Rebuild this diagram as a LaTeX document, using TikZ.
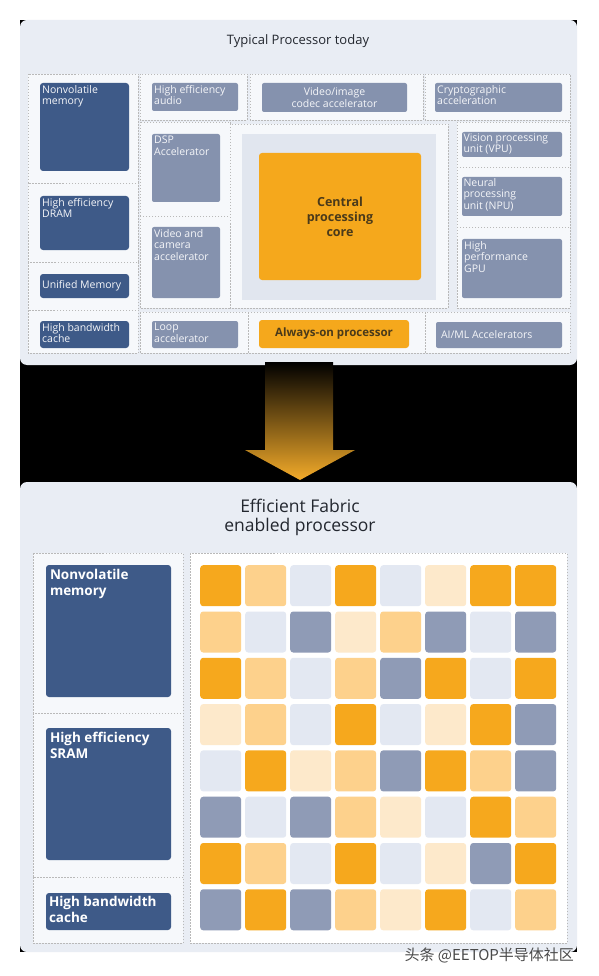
\documentclass[tikz,border=0pt]{standalone}
\usepackage{fontspec}
\setmainfont{Open Sans}
\newfontfamily\cjkfont{Noto Sans CJK SC}
\usepackage{xcolor}
\usepackage{tikz}
\usetikzlibrary{fit, positioning}

\definecolor{panelbg}{HTML}{E9EDF4}
\definecolor{cellbg}{HTML}{F6F8FB}
\definecolor{corebg}{HTML}{E1E6EF}
\definecolor{navy}{HTML}{3E5A88}
\definecolor{slate}{HTML}{8592AE}
\definecolor{coreor}{HTML}{F5A81C}
\definecolor{coretxt}{HTML}{4A3A1A}
\definecolor{titletxt}{HTML}{23272F}
\definecolor{arrowor}{HTML}{F3AB2A}
\definecolor{wmgray}{HTML}{4A4A4A}
\definecolor{tO}{HTML}{F6A81D}
\definecolor{tL}{HTML}{FDD18C}
\definecolor{tP}{HTML}{FDE9CB}
\definecolor{tG}{HTML}{E3E8F2}
\definecolor{tS}{HTML}{8F9BB6}

\begin{document}
\begin{tikzpicture}[
  x=1pt, y=-1pt,
  cell/.style={draw=gray!55, fill=cellbg, line width=0.5pt, dash pattern=on 1.5pt off 1.5pt},
  navybox/.style={fill=navy, rounded corners=3pt, inner sep=0pt},
  slatebox/.style={fill=slate, rounded corners=2pt, inner sep=0pt},
  corebox/.style={fill=coreor, rounded corners=3pt, inner sep=0pt, text=coretxt, align=center, font=\fontsize{12.5}{15}\selectfont\bfseries},
  lbl/.style={anchor=north west, text=white!92!slate, inner sep=2.2pt, align=left, font=\fontsize{10.5}{11.5}\selectfont},
  biglbl/.style={lbl, text=white, inner sep=4pt, font=\fontsize{13.5}{16}\selectfont\bfseries},
  tile/.style={anchor=north west, minimum size=41pt, inner sep=0pt, rounded corners=3pt}
]
  \useasboundingbox (0,0) rectangle (598,976);
  \fill[white] (0,0) rectangle (598,976);
  \fill[black] (20,20) rectangle (577,952);

  % top panel
  \fill[panelbg, rounded corners=7pt] (20,20) rectangle (577,365);
  \node[font=\fontsize{13}{14}\selectfont, text=titletxt] (ttitle) at (298,41) {Typical Processor today};

  \draw[cell] (28,74) rectangle (138,183);
  \draw[cell] (28,183) rectangle (138,262);
  \draw[cell] (28,262) rectangle (138,310);
  \draw[cell] (28,310) rectangle (138,353);
  \draw[cell] (140,74) rectangle (247,120);
  \draw[cell] (140,122) rectangle (230,216);
  \draw[cell] (140,216) rectangle (230,308);
  \draw[cell] (140,312) rectangle (248,353);
  \draw[cell] (250,74) rectangle (423,120);
  \draw[cell] (230,124) rectangle (448,308);
  \draw[cell] (248,312) rectangle (425,353);
  \draw[cell] (425,74) rectangle (570,120);
  \draw[cell] (457,122) rectangle (570,167);
  \draw[cell] (457,167) rectangle (570,227);
  \draw[cell] (457,227) rectangle (570,308);
  \draw[cell] (425,312) rectangle (570,353);
  \fill[corebg] (242,134) rectangle (436,300);

  \node[navybox, fit={(40,83) (129,171)}] (nvm) {};
  \node[lbl] (nvm-l) at (nvm.north west) {Nonvolatile\\memory};
  \node[navybox, fit={(40,196) (129,250)}] (dram) {};
  \node[lbl] (dram-l) at (dram.north west) {High efficiency\\DRAM};
  \node[navybox, fit={(40,274) (129,298)}] (umem) {};
  \node[lbl, anchor=west] (umem-l) at (umem.west) {Unified Memory};
  \node[navybox, fit={(40,321) (129,348)}] (cache) {};
  \node[lbl] (cache-l) at (cache.north west) {High bandwidth\\cache};

  \node[slatebox, fit={(152,83) (238,111)}] (audio) {};
  \node[lbl] (audio-l) at (audio.north west) {High efficiency\\audio};
  \node[slatebox, fit={(152,134) (220,202)}] (dsp) {};
  \node[lbl] (dsp-l) at (dsp.north west) {DSP\\Accelerator};
  \node[slatebox, fit={(152,227) (220,298)}] (vcam) {};
  \node[lbl] (vcam-l) at (vcam.north west) {Video and\\camera\\accelerator};
  \node[slatebox, fit={(152,321) (238,348)}] (loop) {};
  \node[lbl] (loop-l) at (loop.north west) {Loop\\accelerator};

  \node[slatebox, fit={(262,83) (407,112)}] (codec) {};
  \node[lbl, anchor=center, align=center] (codec-l) at (codec.center) {Video/image\\codec accelerator};
  \node[corebox, fit={(259,153) (421,280)}] (cpu) {};
  \node[corebox, fill=none] (cpu-l) at (cpu.center) {Central\\processing\\core};
  \node[corebox, fit={(259,320) (409,348)}] (aon) {};
  \node[corebox, fill=none, font=\fontsize{11.5}{13}\selectfont\bfseries] (aon-l) at (aon.center) {Always-on processor};

  \node[slatebox, fit={(435,83) (562,112)}] (crypto) {};
  \node[lbl] (crypto-l) at (crypto.north west) {Cryptographic\\acceleration};
  \node[slatebox, fit={(462,132) (562,157)}] (vpu) {};
  \node[lbl, inner sep=1.5pt] (vpu-l) at (vpu.north west) {Vision processing\\unit (VPU)};
  \node[slatebox, fit={(462,177) (562,216)}] (npu) {};
  \node[lbl, inner sep=1.5pt] (npu-l) at (npu.north west) {Neural\\processing\\unit (NPU)};
  \node[slatebox, fit={(462,239) (562,298)}] (gpu) {};
  \node[lbl] (gpu-l) at (gpu.north west) {High\\performance\\GPU};
  \node[slatebox, fit={(436,322) (562,348)}] (aiml) {};
  \node[lbl, anchor=west, inner sep=5pt] (aiml-l) at (aiml.west) {AI/ML Accelerators};

  % arrow between the panels
  \shade[top color=black, bottom color=arrowor]
    (265,362) -- (333,362) -- (333,450) -- (355,450) -- (300,480) -- (245,450) -- (265,450) -- cycle;

  % bottom panel
  \fill[panelbg, rounded corners=7pt] (20,482) rectangle (577,952);
  \node[font=\fontsize{17.5}{19}\selectfont, text=titletxt, align=center] (ftitle) at (300,517) {Efficient Fabric\\enabled processor};

  \draw[cell, line width=0.6pt] (33,553) rectangle (183,713);
  \draw[cell, line width=0.6pt] (33,713) rectangle (183,877);
  \draw[cell, line width=0.6pt] (33,877) rectangle (183,943);
  \draw[cell, line width=0.6pt, fill=white] (190,553) rectangle (567,943);

  \node[navybox, fit={(46,565) (171,697)}] (bnvm) {};
  \node[biglbl] (bnvm-l) at (bnvm.north west) {Nonvolatile\\memory};
  \node[navybox, fit={(46,728) (171,860)}] (bsram) {};
  \node[biglbl] (bsram-l) at (bsram.north west) {High efficiency\\SRAM};
  \node[navybox, fit={(46,893) (171,930)}] (bcache) {};
  \node[biglbl, inner sep=3pt] (bcache-l) at (bcache.north west) {High bandwidth\\cache};

  % fabric tiles
  \foreach \row [count=\r from 0] in {
      {O,L,G,O,G,P,O,O},
      {L,G,S,P,L,S,G,S},
      {O,L,G,L,S,O,G,O},
      {P,L,G,O,G,P,O,S},
      {G,O,P,L,S,O,L,S},
      {S,G,S,L,P,G,O,L},
      {O,L,G,O,G,P,S,O},
      {S,O,S,L,P,O,G,L}} {
    \foreach \c [count=\k from 0] in \row {
      \node[tile, fill=t\c] (t-\r-\k) at ({200+45*\k},{565+46.3*\r}) {};
    }
  }

  \node[font=\cjkfont\fontsize{15}{15}\selectfont, text=wmgray, anchor=west] (wmark) at (401,955) {头条 @EETOP半导体社区};
\end{tikzpicture}
\end{document}
